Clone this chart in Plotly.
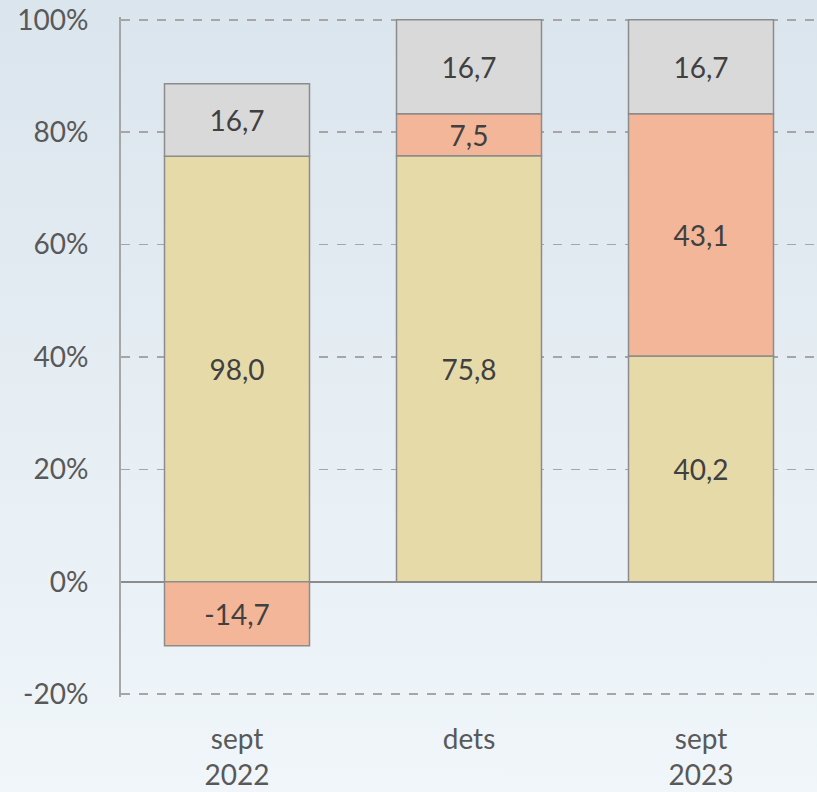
import base64
import plotly.graph_objects as go

categories = ["sept<br>2022", "dets", "sept<br>2023"]
series_names = ["A", "B", "C"]
values_a = [98.0, 75.8, 40.2]
values_b = [-14.7, 7.5, 43.1]
values_c = [16.7, 16.7, 16.7]
colors = ["#e6daa9", "#f3b698", "#d9d9d9"]
ytick_vals = [-20, 0, 20, 40, 60, 80, 100]
ytick_text = ["-20%", "0%", "20%", "40%", "60%", "80%", "100%"]

series = [values_a, values_b, values_c]
totals = [sum(abs(s[i]) for s in series) for i in range(len(categories))]

W, H = 817, 792
ML, MR, MT, MB = 121, 0, 17, 95
PW, PH = W - ML - MR, H - MT - MB

FONT = "Lato"

fig = go.Figure()
for name, vals, col in zip(series_names, series, colors):
    pct = [v / t * 100 for v, t in zip(vals, totals)]
    fig.add_trace(go.Bar(
        x=categories, y=pct, name=name,
        marker=dict(color=col, line=dict(color="#8c8c8c", width=1.5)),
        text=[f"{v:.1f}".replace(".", ",") for v in vals],
        textposition="inside", insidetextanchor="middle", textangle=0,
        textfont=dict(family=FONT, size=28, color="#404040"),
        cliponaxis=False, hoverinfo="skip",
    ))

svg = (f'<svg xmlns="http://www.w3.org/2000/svg" width="{W}" height="{H}">'
       '<defs><linearGradient id="g" x1="0" y1="0" x2="0" y2="1">'
       '<stop offset="0" stop-color="#dbe5ed"/><stop offset="1" stop-color="#f0f6fa"/>'
       '</linearGradient></defs>'
       f'<rect width="{W}" height="{H}" fill="url(#g)"/></svg>')
src = "data:image/svg+xml;base64," + base64.b64encode(svg.encode()).decode()

fig.update_layout(
    width=W, height=H,
    margin=dict(l=ML, r=MR, t=MT, b=MB, pad=0, autoexpand=False),
    barmode="relative", bargap=0.375,
    showlegend=False,
    paper_bgcolor="rgba(0,0,0,0)", plot_bgcolor="rgba(0,0,0,0)",
    uniformtext=dict(minsize=28, mode="show"),
    images=[dict(source=src, xref="paper", yref="paper",
                 x=-ML / PW, y=1 + MT / PH, sizex=W / PW, sizey=H / PH,
                 xanchor="left", yanchor="top", sizing="stretch", layer="below")],
    font=dict(family=FONT, color="#595959", size=28),
)
fig.update_yaxes(
    range=[-20.5, 100.5], tickvals=ytick_vals, ticktext=ytick_text,
    showgrid=True, gridcolor="#a6a6a6", gridwidth=1.5, griddash="dash",
    zeroline=True, zerolinecolor="#8c8c8c", zerolinewidth=2,
    showline=True, linecolor="#a6a6a6", linewidth=2,
    ticks="", ticklabelstandoff=25, automargin=False,
    tickfont=dict(family=FONT, size=28, color="#595959"),
    fixedrange=True,
)
fig.update_xaxes(
    showgrid=False, showline=False, zeroline=False, ticks="",
    ticklabelstandoff=23, automargin=False,
    tickfont=dict(family=FONT, size=28, color="#595959"),
    fixedrange=True,
)

fig.write_html(
    "out.html",
    config={"displayModeBar": False, "staticPlot": True},
    post_script="document.body.style.margin='0';document.body.style.overflow='hidden';",
)
